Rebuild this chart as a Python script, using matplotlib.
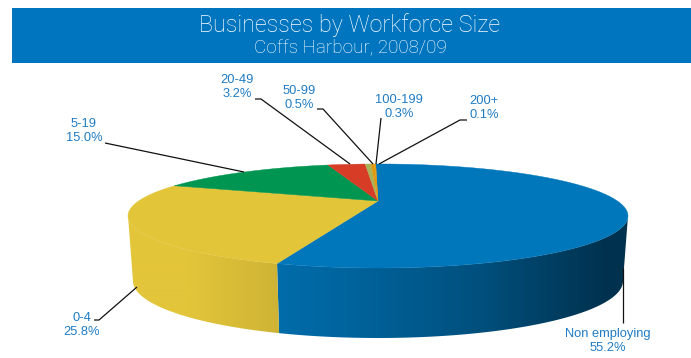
import matplotlib
matplotlib.use('Agg')
import matplotlib.pyplot as plt
from matplotlib.colors import to_rgb
from matplotlib.patches import Polygon
import numpy as np

size_bands = ['Non employing', '0-4', '5-19', '20-49', '50-99', '100-199', '200+']
shares = [55.2, 25.8, 15.0, 3.2, 0.5, 0.3, 0.1]
slice_colors = ['#0077bb', '#e3c53a', '#009651', '#d63c26', '#a8b35a', '#e09a10', '#e09a10']

label_pos = [(608, 341), (82, 325), (84, 131), (237, 87), (299, 98), (399, 107), (484, 108)]
leaders = [
    [(623, 323), (623, 268)],
    [(94, 320), (99, 320), (137, 287)],
    [(105, 143), (244, 172)],
    [(255, 99), (261, 99), (350, 164)],
    [(317, 109), (323, 109), (373, 164)],
    [(381, 118), (376, 164)],
    [(467, 120), (460, 120), (379, 164)],
]

CX, CY = 378, 201
TILT = 0.288
A, B = 239.4, 47.7
START = np.radians(-0.7)
# angle where the top ellipse reaches its widest point on screen
SILHOUETTE = np.arccos(-TILT)


def project(theta):
    # theta runs clockwise from the back of the pie, in radians
    u, v = np.sin(theta), np.cos(theta)
    w = 1 + TILT * v
    return CX + A * u / w, CY - B * v / w


def project_bottom(theta):
    x, y = project(theta)
    return CX + (x - CX) * 0.98, 281 + (y - 216) * 57 / 52


def wall_shade(x):
    return np.interp(x, [130, 190, 278, 340, 480, 600, 628],
                     [1.0, 1.0, 0.91, 0.85, 0.67, 0.43, 0.41])


fig = plt.figure(figsize=(6.91, 3.58), dpi=100)
ax = fig.add_axes([0, 0, 1, 1])
ax.set_xlim(0, 691)
ax.set_ylim(358, 0)
ax.axis('off')

# header band
ax.fill_between([12, 691], 8, 63, color='#0075bf', lw=0)
ax.text(350, 25, 'Businesses by Workforce Size', color='white', fontsize=16.8,
        family=['Roboto', 'DejaVu Sans'], weight='light', ha='center', va='center')
ax.text(350, 47, 'Coffs Harbour, 2008/09', color='white', fontsize=13.6,
        family=['Roboto', 'DejaVu Sans'], weight='light', ha='center', va='center')

edges = START + 2 * np.pi * np.cumsum([0] + shares) / sum(shares)

# side wall: a horizontal gradient clipped to each slice's outline
columns = np.arange(120, 640)
shade = wall_shade(columns + 0.5)
for i in range(len(shares)):
    start, stop = max(edges[i], SILHOUETTE), min(edges[i + 1], 2 * np.pi - SILHOUETTE)
    if stop <= start:
        continue
    arc = np.linspace(start, stop, 200)
    tx, ty = project(arc)
    bx, by = project_bottom(arc[::-1])
    outline = Polygon(np.c_[np.r_[tx, bx], np.r_[ty, by]], closed=True,
                      facecolor='none', edgecolor='none', transform=ax.transData)
    ax.add_patch(outline)
    rgb = np.array(to_rgb(slice_colors[i]))
    strip = (shade[None, :, None] * rgb[None, None, :]).clip(0, 1)
    im = ax.imshow(strip, extent=(120, 640, 345, 160), aspect='auto',
                   interpolation='bilinear', zorder=1)
    im.set_clip_path(outline)
ax.set_xlim(0, 691)
ax.set_ylim(358, 0)

# top surface
for i in range(len(shares)):
    arc = np.linspace(edges[i], edges[i + 1], 200)
    x, y = project(arc)
    ax.fill(np.r_[CX, x], np.r_[CY, y], color=slice_colors[i], lw=0.3, zorder=2)

for pts in leaders:
    xs, ys = zip(*pts)
    ax.plot(xs, ys, color='#111111', lw=0.9, solid_capstyle='butt', zorder=3)

for band, share, (lx, ly) in zip(size_bands, shares, label_pos):
    ax.text(lx, ly, f'{band}\n{share:.1f}%', color='#1f7cc4', fontsize=9.3,
            family=['Liberation Sans', 'DejaVu Sans'], ha='center', va='center',
            linespacing=1.12, zorder=3)

fig.savefig('out.png', dpi=100)
